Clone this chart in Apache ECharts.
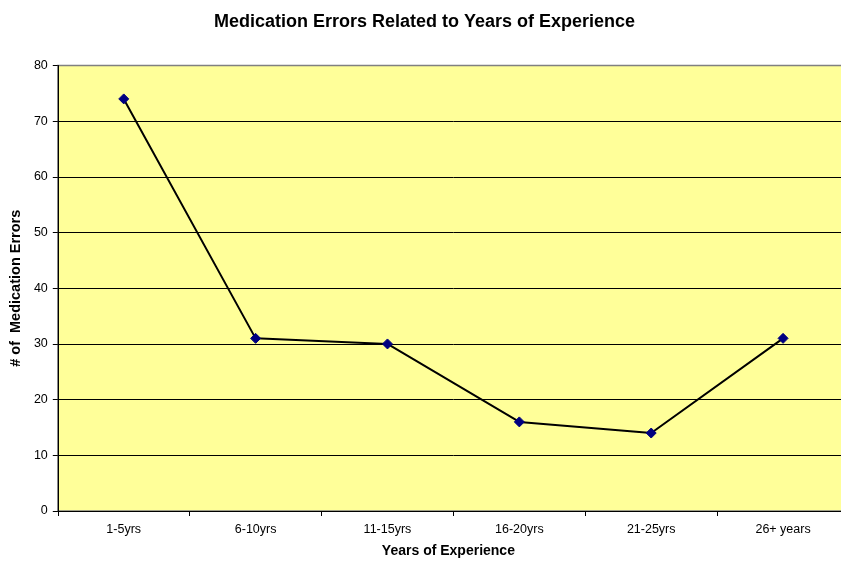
<!DOCTYPE html>
<html>
<head>
<meta charset="utf-8">
<script src="https://cdn.jsdelivr.net/npm/echarts@6/dist/echarts.min.js"></script>
<style>
  html, body { margin: 0; padding: 0; background: #ffffff; overflow: hidden; }
  #chart { width: 849px; height: 563px; }
</style>
</head>
<body>
<div id="chart"></div>
<script>
// Experience bands and the number of medication errors in each
const categories = ['1-5yrs', '6-10yrs', '11-15yrs', '16-20yrs', '21-25yrs', '26+ years'];
const errorCounts = [74, 31, 30, 16, 14, 31];
const yTicks = { min: 0, max: 80, interval: 10 };

const chart = echarts.init(document.getElementById('chart'), null, { renderer: 'canvas' });
const font = 'Arial, "Liberation Sans", sans-serif';

chart.setOption({
  animation: false,
  backgroundColor: '#ffffff',
  title: {
    text: 'Medication Errors Related to Years of Experience',
    left: 'center',
    top: 8,
    textStyle: { fontFamily: font, fontSize: 18, fontWeight: 'bold', color: '#000' }
  },
  grid: {
    left: 57.5,
    right: 0,
    top: 65.5,
    bottom: 51.5,
    show: true,
    backgroundColor: '#FFFF99',
    borderColor: '#808080',
    borderWidth: 1.5
  },
  xAxis: {
    type: 'category',
    data: categories,
    boundaryGap: true,
    name: 'Years of Experience',
    nameLocation: 'middle',
    nameGap: 33,
    nameTextStyle: { fontFamily: font, fontSize: 14, fontWeight: 'bold', color: '#000', padding: [0, 10, 0, 0] },
    axisLine: { lineStyle: { color: '#000', width: 1 } },
    axisTick: { show: true, length: 5, inside: false, lineStyle: { color: '#000' } },
    axisLabel: { fontFamily: font, fontSize: 12.5, color: '#000', margin: 12 },
    splitLine: { show: false }
  },
  yAxis: {
    type: 'value',
    min: yTicks.min,
    max: yTicks.max,
    interval: yTicks.interval,
    name: '# of  Medication Errors',
    nameLocation: 'middle',
    nameGap: 31.5,
    nameRotate: 90,
    nameTextStyle: { fontFamily: font, fontSize: 14.5, fontWeight: 'bold', color: '#000' },
    axisLine: { show: true, lineStyle: { color: '#000', width: 1 } },
    axisTick: { show: true, length: 5, lineStyle: { color: '#000' } },
    axisLabel: { fontFamily: font, fontSize: 12.5, color: '#000', margin: 10 },
    splitLine: { show: true, showMaxLine: false, lineStyle: { color: '#000', width: 1 } }
  },
  series: [{
    type: 'line',
    data: errorCounts,
    symbol: 'diamond',
    symbolSize: 10,
    lineStyle: { color: '#000', width: 2 },
    itemStyle: { color: '#000080', borderColor: '#000080' },
    z: 3
  }]
});
</script>
</body>
</html>
